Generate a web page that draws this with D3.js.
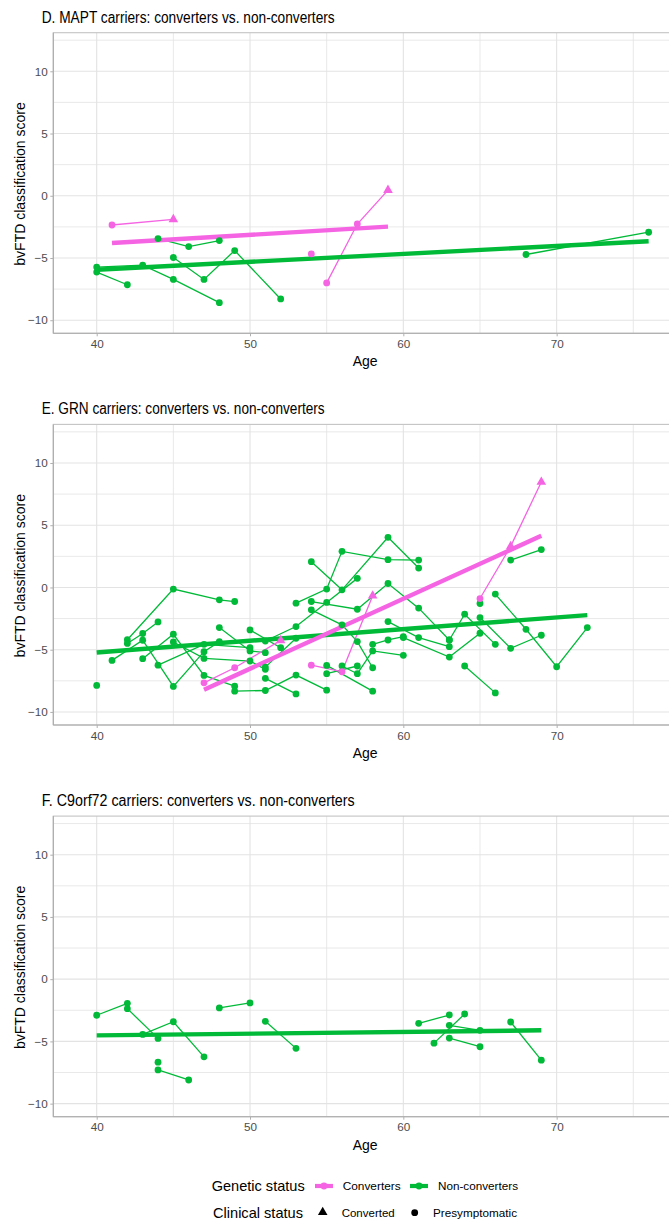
<!DOCTYPE html>
<html>
<head>
<meta charset="utf-8">
<script src="https://cdn.jsdelivr.net/npm/d3@7"></script>
<style>
  body { margin: 0; background: #fff; }
  svg { display: block; }
  text { font-family: "Liberation Sans", Arial, Helvetica, sans-serif; }
</style>
</head>
<body>
<svg id="chart" width="669" height="1220"></svg>
<script>
// ---- axis ticks and labels ----
const ageTicks = [40, 50, 60, 70];
const ageMinorTicks = [45, 55, 65, 75];
const scoreTicks = [-10, -5, 0, 5, 10];
const scoreMinorTicks = [-7.5, -2.5, 2.5, 7.5, 12.5];
const panelTitles = [
  "D. MAPT carriers: converters vs. non-converters",
  "E. GRN carriers: converters vs. non-converters",
  "F. C9orf72 carriers: converters vs. non-converters"
];

// ---- MAPT: one array per subject, [age, score, clinical status] ----
const maptConverters = [
  [[41, -2.35, "P"], [45, -1.9, "C"]],
  [[54, -4.67, "P"]],
  [[55, -7.0, "P"], [57, -2.27, "P"], [59, 0.45, "C"]]
];
const maptNonConverters = [
  [[40, -6.13, "P"], [42, -7.15, "P"]],
  [[40, -5.73, "P"], [43, -5.57, "P"], [45, -6.72, "P"], [48, -8.59, "P"]],
  [[44, -3.44, "P"], [46, -4.08, "P"], [48, -3.6, "P"]],
  [[45, -4.96, "P"], [47, -6.72, "P"], [49, -4.4, "P"], [52, -8.29, "P"]],
  [[68, -4.72, "P"], [76, -2.93, "P"]]
];
const maptTrendConverters = [[41, -3.8], [59, -2.48]];
const maptTrendNonConverters = [[40, -5.95], [76, -3.65]];

// ---- GRN ----
const grnConverters = [
  [[47, -7.66, "P"], [49, -6.45, "P"], [52, -4.25, "C"]],
  [[54, -6.24, "P"], [56, -6.77, "P"], [58, -0.67, "C"]],
  [[65, -0.89, "P"], [67, 3.3, "C"], [69, 8.47, "C"]]
];
const grnNonConverters = [
  [[40, -7.87, "P"]],
  [[42, -4.2, "P"], [45, -0.13, "P"], [48, -0.99, "P"], [49, -1.13, "P"]],
  [[41, -5.86, "P"], [43, -4.24, "P"], [45, -7.95, "P"], [47, -5.16, "P"], [48, -4.35, "P"]],
  [[42, -4.5, "P"], [43, -3.7, "P"], [44, -2.77, "P"]],
  [[43, -5.72, "P"], [45, -3.76, "P"], [47, -7.07, "P"], [49, -7.93, "P"]],
  [[44, -6.24, "P"], [47, -4.57, "P"], [50, -4.84, "P"]],
  [[45, -4.38, "P"], [47, -5.7, "P"], [50, -5.91, "P"], [51, -6.58, "P"]],
  [[48, -3.22, "P"], [50, -5.1, "P"], [51, -5.24, "P"]],
  [[49, -8.33, "P"], [51, -8.28, "P"], [53, -7.04, "P"], [55, -8.25, "P"]],
  [[50, -3.41, "P"], [52, -4.84, "P"]],
  [[51, -4.3, "P"], [53, -3.14, "P"], [55, -1.2, "P"], [57, 0.73, "P"]],
  [[51, -6.4, "P"], [53, -4.08, "P"]],
  [[51, -7.3, "P"], [53, -8.55, "P"]],
  [[53, -1.26, "P"], [55, -0.13, "P"], [56, 2.9, "P"], [59, 2.23, "P"], [61, 2.2, "P"]],
  [[54, 2.07, "P"], [56, -0.19, "P"], [59, 4.03, "P"], [61, 1.56, "P"]],
  [[54, -1.8, "P"], [56, -3.0, "P"], [57, -4.35, "P"], [58, -6.45, "P"]],
  [[55, -6.26, "P"], [58, -8.33, "P"]],
  [[55, -6.93, "P"], [57, -6.31, "P"]],
  [[54, -1.13, "P"], [57, -1.75, "P"], [59, 0.32, "P"], [61, -1.66, "P"], [63, -4.22, "P"]],
  [[56, -6.31, "P"], [57, -6.93, "P"], [58, -5.1, "P"], [60, -5.45, "P"]],
  [[58, -4.57, "P"], [59, -4.22, "P"], [60, -3.95, "P"]],
  [[59, -2.74, "P"], [61, -4.03, "P"], [63, -4.76, "P"]],
  [[60, -4.03, "P"], [63, -5.59, "P"], [65, -3.68, "P"]],
  [[64, -6.31, "P"], [66, -8.47, "P"]],
  [[63, -4.22, "P"], [64, -2.15, "P"], [66, -4.57, "P"]],
  [[65, -2.42, "P"], [67, -4.89, "P"], [69, -3.84, "P"]],
  [[65, -1.29, "P"]],
  [[66, -0.53, "P"], [68, -3.36, "P"], [70, -6.37, "P"], [72, -3.22, "P"]],
  [[67, 2.2, "P"], [69, 3.04, "P"]]
];
const grnTrendConverters = [[47, -8.22], [69, 4.15]];
const grnTrendNonConverters = [[40, -5.22], [72, -2.22]];

// ---- C9orf72 ----
const c9Converters = [];
const c9NonConverters = [
  [[40, -2.9, "P"], [42, -1.94, "P"]],
  [[42, -2.37, "P"], [44, -4.76, "P"]],
  [[43, -4.44, "P"], [45, -3.42, "P"], [47, -6.24, "P"]],
  [[44, -6.67, "P"]],
  [[44, -7.29, "P"], [46, -8.1, "P"]],
  [[48, -2.31, "P"], [50, -1.91, "P"]],
  [[51, -3.39, "P"], [53, -5.56, "P"]],
  [[61, -3.55, "P"], [63, -2.88, "P"]],
  [[62, -5.14, "P"], [64, -2.8, "P"]],
  [[63, -3.71, "P"], [65, -4.11, "P"]],
  [[63, -4.73, "P"], [65, -5.43, "P"]],
  [[67, -3.44, "P"], [69, -6.51, "P"]]
];
const c9TrendConverters = null;
const c9TrendNonConverters = [[40, -4.52], [69, -4.11]];

const legendGenetic = ["Converters", "Non-converters"];
const legendClinical = ["Converted", "Presymptomatic"];

// ---- styling ----
const PINK = "#F564E3";
const GREEN = "#00BA38";
const GRID = "#e3e3e3";
const TEXT_GREY = "#4d4d4d";

const panels = [
  { title: panelTitles[0], conv: maptConverters, non: maptNonConverters, tConv: maptTrendConverters, tNon: maptTrendNonConverters },
  { title: panelTitles[1], conv: grnConverters, non: grnNonConverters, tConv: grnTrendConverters, tNon: grnTrendNonConverters },
  { title: panelTitles[2], conv: c9Converters, non: c9NonConverters, tConv: c9TrendConverters, tNon: c9TrendNonConverters }
];

const svg = d3.select("#chart");
const pitch = 391.7;
const left = 53.3, right = 677;
const top0 = 32.7, bottom0 = 333.3;

const x = d3.scaleLinear().domain([37.17, 77.85]).range([left, right]);

function fitText(sel, width) {
  sel.attr("textLength", width).attr("lengthAdjust", "spacingAndGlyphs");
}

panels.forEach((p, i) => {
  const off = i * pitch;
  const top = top0 + off, bottom = bottom0 + off;
  const y = d3.scaleLinear().domain([-11.05, 13.1]).range([bottom, top]);
  const g = svg.append("g");

  const clipId = "clip" + i;
  g.append("clipPath").attr("id", clipId)
    .append("rect").attr("x", left).attr("y", top).attr("width", right - left).attr("height", bottom - top);

  // grid
  const grid = g.append("g");
  grid.selectAll(".vmin").data(ageMinorTicks).join("line")
    .attr("x1", d => x(d)).attr("x2", d => x(d)).attr("y1", top).attr("y2", bottom)
    .attr("stroke", GRID).attr("stroke-width", 0.8);
  grid.selectAll(".hmin").data(scoreMinorTicks).join("line")
    .attr("y1", d => y(d)).attr("y2", d => y(d)).attr("x1", left).attr("x2", right)
    .attr("stroke", GRID).attr("stroke-width", 0.8);
  grid.selectAll(".vmaj").data(ageTicks).join("line")
    .attr("x1", d => x(d)).attr("x2", d => x(d)).attr("y1", top).attr("y2", bottom)
    .attr("stroke", GRID).attr("stroke-width", 1.1);
  grid.selectAll(".hmaj").data(scoreTicks).join("line")
    .attr("y1", d => y(d)).attr("y2", d => y(d)).attr("x1", left).attr("x2", right)
    .attr("stroke", GRID).attr("stroke-width", 1.1);

  // panel border
  g.append("rect").attr("x", left).attr("y", top).attr("width", right - left).attr("height", bottom - top)
    .attr("fill", "none").attr("stroke", "#c4c4c4").attr("stroke-width", 1.1);

  // axes
  const yAxis = d3.axisLeft(y).tickValues(scoreTicks).tickSize(3).tickPadding(2.5);
  const ya = g.append("g").attr("transform", `translate(${left},0)`).call(yAxis);
  const xAxis = d3.axisBottom(x).tickValues(ageTicks).tickSize(3).tickPadding(3.5);
  const xa = g.append("g").attr("transform", `translate(0,${bottom})`).call(xAxis);
  [ya, xa].forEach(a => {
    a.select(".domain").attr("stroke", "#aaaaaa").attr("stroke-width", 1.1);
    a.selectAll(".tick line").attr("stroke", "#b0b0b0");
    a.selectAll(".tick text").attr("fill", TEXT_GREY).attr("font-size", 11.7)
      .attr("font-family", "'Liberation Sans', Arial, sans-serif");
  });
  ya.select(".domain").attr("d", `M0,${top}V${bottom}`);
  xa.select(".domain").attr("d", `M${left},0H${right}`);

  // titles
  g.append("text").attr("x", 41.7).attr("y", top - 10).attr("font-size", 15.6).attr("fill", "#000")
    .text(p.title).call(fitText, i === 2 ? 313 : (i === 1 ? 283 : 293));
  g.append("text").attr("x", (left + right) / 2).attr("y", bottom + 33).attr("text-anchor", "middle")
    .attr("font-size", 14).attr("fill", "#000").text("Age");
  g.append("text").attr("transform", `translate(25,${(top + bottom) / 2 + 1}) rotate(-90)`)
    .attr("text-anchor", "middle").attr("font-size", 14).attr("fill", "#000")
    .text("bvFTD classification score");

  // data
  const plot = g.append("g").attr("clip-path", `url(#${clipId})`);
  const line = d3.line().x(d => x(d[0])).y(d => y(d[1]));

  plot.selectAll(".subjN").data(p.non).join("path")
    .attr("d", line).attr("fill", "none").attr("stroke", GREEN).attr("stroke-width", 1.3);
  plot.selectAll(".subjC").data(p.conv).join("path")
    .attr("d", line).attr("fill", "none").attr("stroke", PINK).attr("stroke-width", 1.3);

  if (p.tNon) plot.append("path").attr("d", line(p.tNon)).attr("fill", "none")
    .attr("stroke", GREEN).attr("stroke-width", 4.4);
  if (p.tConv) plot.append("path").attr("d", line(p.tConv)).attr("fill", "none")
    .attr("stroke", PINK).attr("stroke-width", 4.4);

  const tri = d3.symbol().type(d3.symbolTriangle).size(40);
  function drawPoints(groups, color) {
    const pts = groups.flat();
    plot.append("g").selectAll("circle").data(pts.filter(d => d[2] === "P")).join("circle")
      .attr("cx", d => x(d[0])).attr("cy", d => y(d[1])).attr("r", 3.4).attr("fill", color);
    plot.append("g").selectAll("path").data(pts.filter(d => d[2] === "C")).join("path")
      .attr("d", tri).attr("transform", d => `translate(${x(d[0])},${y(d[1])})`).attr("fill", color);
  }
  drawPoints(p.non, GREEN);
  drawPoints(p.conv, PINK);
});

// ---- legend ----
const lg = svg.append("g");
const row1 = 1186, row2 = 1212.7;
lg.append("text").attr("x", 211.7).attr("y", row1 + 5).attr("font-size", 14.6).text("Genetic status").call(fitText, 93);
[[324, PINK, 342.7, legendGenetic[0], 58], [419, GREEN, 438, legendGenetic[1], 80]].forEach(([cx, col, tx, lab, w]) => {
  lg.append("line").attr("x1", cx - 9).attr("x2", cx + 9).attr("y1", row1).attr("y2", row1)
    .attr("stroke", col).attr("stroke-width", 4.2);
  lg.append("circle").attr("cx", cx).attr("cy", row1).attr("r", 3.4).attr("fill", col);
  lg.append("text").attr("x", tx).attr("y", row1 + 4).attr("font-size", 11.7).text(lab).call(fitText, w);
});
lg.append("text").attr("x", 213).attr("y", row2 + 5).attr("font-size", 14.6).text("Clinical status").call(fitText, 90);
lg.append("path").attr("d", d3.symbol().type(d3.symbolTriangle).size(40)())
  .attr("transform", `translate(322.7,${row2 - 0.5})`).attr("fill", "#000");
lg.append("text").attr("x", 341.7).attr("y", row2 + 4).attr("font-size", 11.7).text(legendClinical[0]).call(fitText, 53);
lg.append("circle").attr("cx", 414.7).attr("cy", row2).attr("r", 3.4).attr("fill", "#000");
lg.append("text").attr("x", 433).attr("y", row2 + 4).attr("font-size", 11.7).text(legendClinical[1]).call(fitText, 84);
</script>
</body>
</html>
